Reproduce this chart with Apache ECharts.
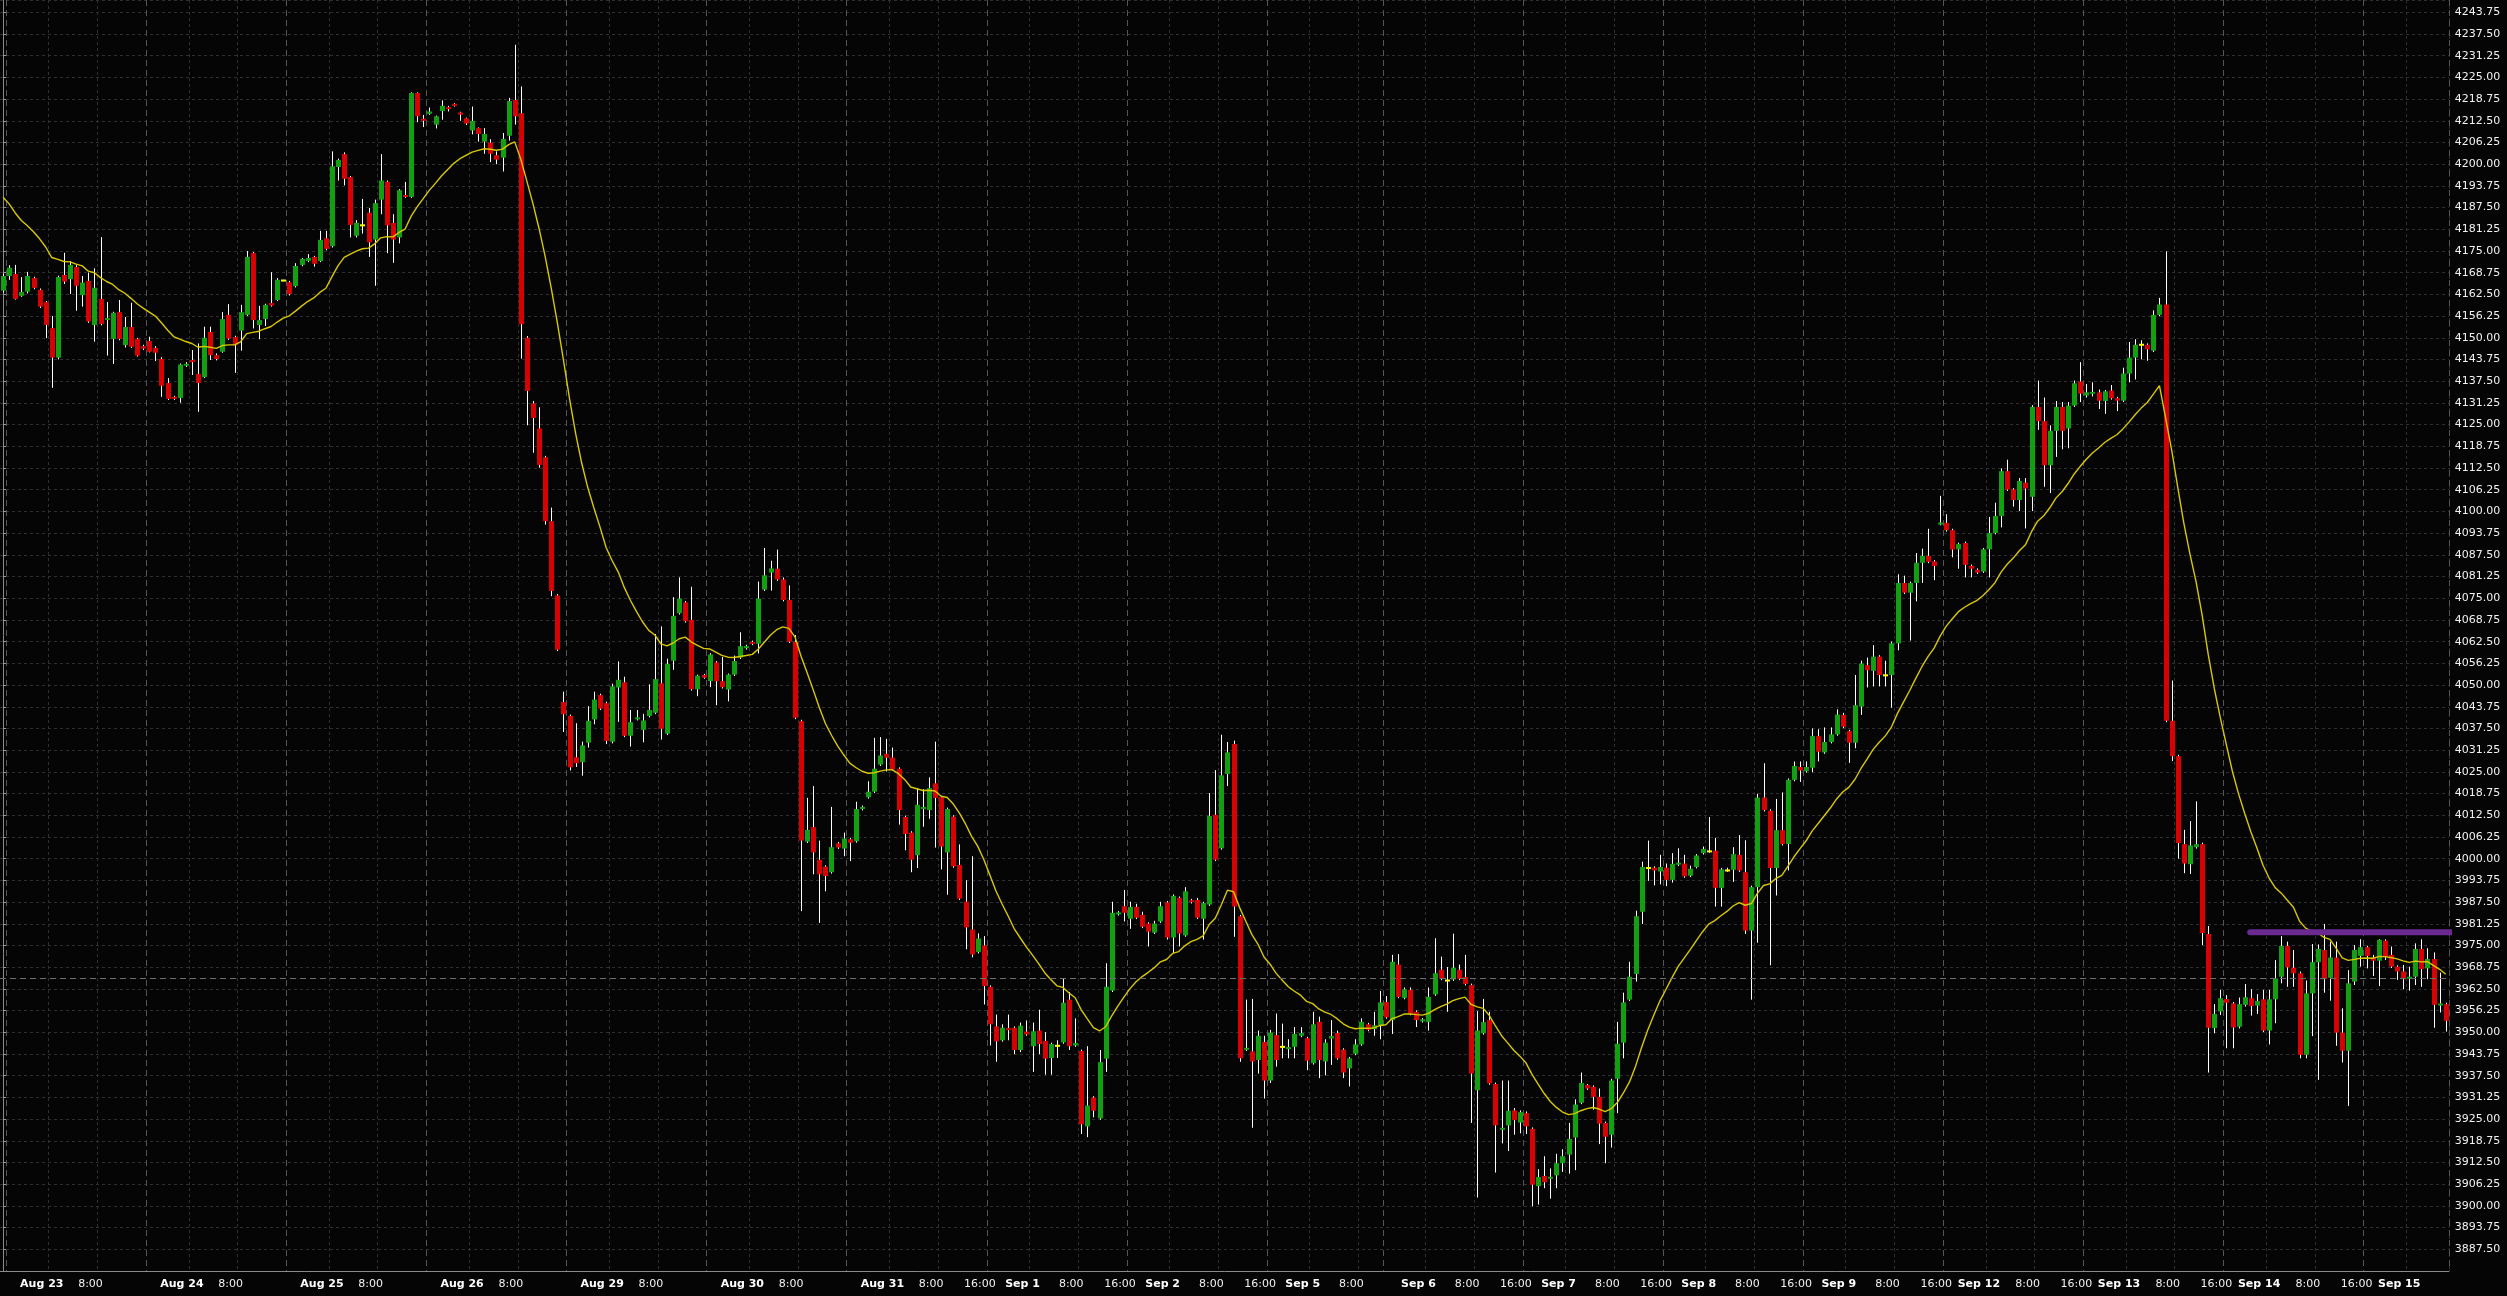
<!DOCTYPE html>
<html>
<head>
<meta charset="utf-8">
<script src="https://cdn.jsdelivr.net/npm/echarts@6/dist/echarts.min.js"></script>
<style>
html,body{margin:0;padding:0;background:#050505;}
#chart{width:2507px;height:1296px;}
</style>
</head>
<body>
<div id="chart"></div>
<script>
// ---------- categories (hourly bars, CT session 17:00-16:00) ----------
const sessionDates = ['Aug 23','Aug 24','Aug 25','Aug 26','Aug 29','Aug 30','Aug 31','Sep 1','Sep 2','Sep 5','Sep 6','Sep 7','Sep 8','Sep 9','Sep 12','Sep 13','Sep 14','Sep 15'];
const sessionLastHour = [15,15,15,15,15,15,15,15,15,11,15,15,15,15,15,15,15,6];
const sixteenLabelAfter = ['Aug 31','Sep 1','Sep 2','Sep 6','Sep 7','Sep 8','Sep 9','Sep 12','Sep 13','Sep 14'];
const firstBarLabel = 'Aug 22 15:00';

// ---------- OHLC values ----------
const openPrices = [
4163.6,4167.8,4168.4,4162.1,4163.3,4167.2,4163.8,4160.3,4152.8,4144.3,
4168.1,4166.9,4170.4,4162.3,4166.4,4153.7,4161.2,4155.2,4149.7,4157.4,
4147.9,4153.1,4149.7,4147.6,4149.1,4147.1,4143.9,4137.0,4133.0,4132.7,
4142.0,4143.6,4139.6,4138.7,4151.7,4145.0,4146.0,4156.6,4150.2,4152.1,
4156.6,4174.4,4153.7,4155.4,4160.0,4160.9,4166.5,4166.0,4164.9,4171.0,
4172.1,4173.3,4172.1,4178.7,4176.4,4199.2,4202.9,4196.3,4179.4,4182.4,
4186.0,4178.3,4189.8,4194.9,4183.1,4178.9,4191.1,4190.6,4220.5,4213.1,
4214.5,4211.4,4215.3,4216.4,4217.4,4214.9,4213.2,4209.7,4210.4,4206.5,
4206.2,4202.6,4201.9,4208.2,4218.5,4214.7,4150.0,4131.1,4123.9,4115.6,
4097.2,4075.8,4045.1,4041.1,4029.2,4027.8,4033.4,4040.1,4047.1,4044.8,
4033.7,4049.3,4050.8,4035.4,4040.2,4037.1,4041.1,4042.0,4050.5,4036.0,
4057.0,4070.7,4073.8,4068.8,4048.8,4052.9,4051.1,4056.5,4051.1,4048.7,
4053.0,4057.9,4060.6,4062.4,4061.9,4077.5,4082.4,4083.5,4080.4,4074.5,
4062.4,4039.6,4004.9,4009.1,3999.7,3997.7,3996.1,4004.4,4002.9,4005.6,
4005.0,4014.3,4017.7,4019.3,4027.1,4030.2,4029.1,4025.9,4012.0,4007.5,
4001.0,4014.3,4014.0,4021.7,4017.7,4001.8,4012.1,3998.2,3987.6,3979.6,
3973.1,3975.0,3963.1,3951.7,3947.7,3951.2,3951.3,3944.9,3950.2,3946.0,
3950.5,3947.5,3942.6,3946.1,3947.1,3959.4,3946.2,3944.6,3922.9,3931.2,
3925.2,3942.4,3962.0,3984.0,3986.3,3982.7,3986.1,3983.8,3981.3,3978.7,
3981.9,3987.4,3977.3,3988.7,3977.9,3988.0,3988.1,3982.7,3986.8,4012.6,
4003.0,4024.4,4033.0,3983.4,3945.0,3944.5,3942.0,3947.2,3936.1,3949.2,
3945.8,3945.2,3945.8,3949.0,3948.3,3941.1,3953.0,3941.6,3948.2,3949.8,
3945.0,3939.6,3943.8,3946.5,3952.3,3950.9,3952.0,3958.7,3953.5,3969.5,
3959.9,3962.2,3955.9,3953.2,3953.0,3960.9,3968.0,3964.9,3965.2,3968.0,
3965.9,3963.6,3933.3,3949.7,3953.5,3935.1,3922.0,3923.2,3927.5,3924.0,
3926.7,3922.2,3905.7,3908.6,3907.9,3908.8,3912.3,3914.8,3919.7,3929.7,
3934.8,3934.3,3931.4,3923.9,3920.5,3936.6,3947.0,3959.4,3966.8,3984.7,
3997.3,3997.4,3996.3,3997.4,3993.9,3998.3,3998.6,3995.1,3997.6,4001.6,
4002.1,4002.3,3991.6,3996.6,3996.8,4001.1,3996.1,3979.3,3991.8,4017.6,
4013.8,3997.3,4008.2,4004.2,4022.7,4026.4,4025.2,4026.2,4035.3,4030.6,
4033.6,4035.8,4041.4,4036.7,4033.4,4043.8,4055.7,4054.1,4058.2,4052.8,
4052.9,4062.0,4079.4,4076.6,4079.4,4085.2,4087.2,4085.6,4096.4,4096.7,
4094.6,4089.1,4090.9,4084.3,4083.2,4082.7,4089.1,4093.8,4098.7,4111.6,
4106.3,4103.3,4108.3,4104.2,4130.1,4126.0,4113.3,4123.2,4130.1,4123.9,
4130.5,4137.4,4133.4,4134.0,4134.3,4131.8,4134.8,4132.6,4131.9,4139.7,
4144.3,4148.0,4148.0,4146.3,4156.6,4159.6,4039.7,4029.5,4004.2,3998.4,
4003.3,4004.2,3978.3,3951.2,3956.0,3959.6,3958.3,3951.6,3957.9,3959.8,
3957.7,3959.5,3950.5,3959.5,3966.0,3974.9,3968.6,3967.0,3943.5,3961.2,
3970.2,3973.7,3965.7,3971.5,3949.9,3944.7,3964.6,3972.0,3974.5,3971.5,
3970.6,3976.4,3972.3,3968.9,3967.5,3965.4,3966.0,3974.0,3968.4,3971.1,
3957.7,3958.1
];
const closePrices = [
4167.8,4170.2,4161.2,4163.2,4167.8,4164.4,4159.0,4153.7,4144.3,4167.5,
4166.2,4171.0,4165.0,4165.9,4154.7,4164.4,4154.0,4155.6,4157.2,4149.7,
4153.1,4147.4,4144.9,4146.9,4146.0,4145.7,4136.2,4132.4,4132.4,4142.3,
4142.5,4143.0,4137.0,4150.0,4145.0,4143.9,4155.4,4149.8,4147.9,4157.4,
4173.3,4155.1,4155.1,4159.5,4159.3,4166.7,4166.5,4162.6,4170.7,4172.7,
4173.0,4171.3,4178.2,4175.6,4199.4,4201.2,4195.8,4182.5,4183.1,4182.4,
4177.5,4188.8,4195.3,4182.4,4178.3,4192.5,4190.6,4220.5,4213.8,4212.5,
4215.2,4213.8,4216.8,4215.9,4216.8,4214.3,4211.7,4212.5,4208.7,4208.7,
4203.0,4201.3,4207.3,4218.2,4213.8,4153.9,4134.7,4126.9,4113.4,4097.2,
4077.1,4060.2,4041.6,4026.3,4027.5,4032.6,4039.7,4045.8,4043.2,4033.9,
4049.6,4051.5,4035.4,4039.3,4040.6,4039.8,4042.8,4051.7,4037.4,4056.1,
4069.9,4074.9,4068.4,4048.8,4052.7,4052.1,4058.8,4051.1,4049.4,4053.0,
4056.9,4061.2,4061.2,4061.9,4074.9,4081.6,4083.6,4080.4,4074.5,4062.5,
4040.6,4005.2,4008.3,4001.8,3995.5,3995.0,4003.3,4003.2,4005.8,4004.6,
4014.3,4014.9,4019.3,4025.9,4029.7,4029.1,4025.7,4014.0,4007.1,3999.7,
4015.5,4014.9,4020.3,4017.5,4003.5,4014.3,3997.8,3988.5,3980.2,3972.4,
3977.0,3963.3,3952.3,3947.4,3951.3,3950.6,3944.9,3951.9,3949.4,3950.3,
3946.6,3942.4,3946.6,3946.1,3958.5,3946.0,3946.9,3923.5,3928.9,3927.4,
3941.4,3963.1,3984.4,3984.5,3984.4,3986.1,3983.0,3980.4,3979.0,3981.3,
3986.3,3977.3,3989.3,3978.4,3990.6,3987.5,3983.0,3987.2,4012.3,3999.7,
4024.0,4030.6,3986.2,3942.5,3945.5,3941.6,3949.0,3936.1,3949.9,3942.0,
3945.8,3945.7,3949.5,3949.8,3941.8,3952.3,3942.0,3947.0,3948.9,3942.5,
3938.4,3942.5,3946.5,3953.0,3950.7,3952.0,3958.6,3954.3,3970.3,3960.2,
3962.4,3955.3,3953.5,3953.7,3960.2,3967.0,3965.4,3964.9,3968.6,3965.4,
3963.9,3938.1,3950.5,3952.9,3935.3,3923.2,3922.4,3927.4,3924.7,3927.0,
3922.9,3906.1,3908.3,3906.8,3908.3,3912.3,3914.3,3919.3,3929.2,3935.4,
3933.8,3931.4,3923.7,3919.9,3936.1,3946.7,3958.6,3966.0,3983.4,3997.6,
3997.3,3996.6,3997.6,3993.9,3998.5,3998.8,3994.9,3997.1,4000.9,4002.8,
4002.1,3991.6,3996.9,3996.6,4001.3,3996.6,3979.3,3991.8,4017.6,4014.0,
3997.3,4008.2,4004.2,4022.7,4026.7,4025.4,4026.4,4035.3,4030.8,4033.6,
4035.8,4041.5,4038.0,4033.4,4044.2,4056.2,4054.3,4058.2,4052.9,4052.8,
4062.0,4079.4,4076.6,4079.4,4085.2,4087.2,4085.5,4084.3,4096.6,4094.6,
4089.0,4090.6,4084.6,4083.5,4082.4,4089.1,4093.8,4098.7,4111.6,4106.3,
4103.3,4108.8,4106.6,4130.1,4126.0,4113.3,4123.2,4130.1,4123.2,4130.5,
4136.9,4133.9,4134.3,4134.3,4131.9,4134.6,4132.6,4131.9,4139.7,4144.3,
4148.0,4148.0,4146.7,4156.6,4159.6,4039.7,4029.5,4004.5,3998.6,4003.8,
4004.2,3978.6,3951.3,3955.3,3959.8,3958.5,3951.4,3958.1,3960.1,3957.6,
3959.0,3950.5,3959.5,3965.5,3974.9,3968.7,3967.0,3943.5,3961.2,3970.2,
3974.0,3965.3,3971.5,3949.9,3944.7,3964.1,3973.7,3974.5,3972.0,3970.6,
3976.6,3971.6,3968.9,3967.5,3965.3,3966.0,3974.0,3968.2,3971.1,3957.9,
3958.3,3953.3
];
const lowPrices = [
4163.0,4166.7,4161.0,4161.8,4162.8,4164.0,4158.6,4149.9,4135.6,4143.8,
4165.5,4162.6,4157.8,4159.0,4154.3,4148.9,4153.6,4144.9,4142.5,4149.3,
4147.2,4147.1,4144.6,4146.5,4145.8,4143.3,4133.0,4132.1,4132.1,4131.3,
4141.6,4139.3,4128.7,4138.4,4143.6,4143.5,4145.7,4149.4,4139.9,4146.3,
4156.3,4152.7,4149.6,4153.4,4159.0,4160.6,4166.3,4162.2,4164.5,4170.6,
4171.8,4170.5,4171.8,4175.2,4176.0,4195.3,4193.9,4178.9,4178.9,4180.0,
4173.3,4165.0,4185.6,4174.4,4171.6,4177.2,4190.3,4190.3,4212.1,4210.7,
4214.2,4210.3,4212.8,4215.2,4216.6,4212.5,4211.3,4208.6,4206.5,4203.0,
4200.6,4200.0,4197.9,4206.8,4211.4,4144.0,4124.8,4116.9,4112.6,4096.2,
4075.6,4059.8,4036.5,4025.4,4026.4,4023.9,4032.0,4038.7,4042.8,4033.0,
4033.2,4039.4,4035.0,4032.3,4039.8,4033.5,4040.7,4041.6,4034.3,4035.6,
4054.4,4070.3,4068.0,4048.4,4046.8,4051.8,4049.4,4044.2,4049.0,4045.3,
4052.6,4057.5,4060.2,4061.5,4059.1,4077.1,4077.2,4080.0,4074.1,4062.1,
4040.2,3984.9,4004.5,3995.5,3981.5,3990.6,3995.7,4002.8,4000.7,3999.3,
4004.6,4013.9,4017.3,4018.9,4026.7,4025.1,4025.3,4009.8,4002.4,3996.1,
3997.3,4009.2,4011.5,4003.2,3996.9,3989.6,3997.4,3988.1,3973.9,3971.6,
3972.7,3958.0,3946.2,3941.5,3947.3,3947.7,3943.7,3944.3,3949.0,3938.6,
3943.7,3937.8,3937.8,3942.6,3946.7,3944.9,3945.8,3920.7,3919.8,3925.5,
3924.8,3938.6,3961.6,3983.6,3981.9,3979.8,3982.6,3980.0,3974.7,3978.3,
3981.5,3976.7,3972.8,3974.7,3977.5,3987.1,3982.6,3976.7,3986.4,3999.3,
4002.6,4020.9,3977.5,3941.5,3944.6,3922.5,3938.1,3930.9,3935.4,3940.1,
3942.5,3942.5,3942.5,3948.6,3939.1,3940.7,3936.8,3937.6,3940.6,3942.1,
3936.8,3934.4,3943.4,3946.1,3950.3,3949.0,3948.0,3953.9,3949.5,3959.8,
3959.5,3954.9,3951.5,3952.8,3950.5,3960.5,3965.0,3955.9,3964.8,3965.0,
3963.5,3923.9,3902.4,3949.3,3934.9,3909.6,3918.0,3915.8,3920.5,3920.9,
3920.7,3899.9,3900.4,3905.1,3902.1,3905.1,3909.8,3909.3,3910.3,3929.3,
3933.4,3927.7,3917.8,3912.3,3916.8,3926.7,3942.5,3959.0,3964.6,3981.2,
3993.6,3992.3,3992.6,3992.1,3993.1,3997.9,3994.5,3994.7,3997.2,4001.2,
4001.7,3986.2,3986.2,3996.2,3993.3,3996.2,3978.3,3959.4,3975.8,4013.6,
3969.3,3989.4,4003.8,3996.6,4022.3,4022.1,4024.8,4024.9,4028.0,4030.2,
4033.2,4035.4,4037.6,4027.6,4031.8,4041.4,4049.3,4049.6,4049.6,4049.6,
4043.5,4060.0,4076.2,4062.8,4074.1,4079.4,4085.1,4080.2,4096.0,4094.2,
4086.8,4083.5,4081.0,4081.0,4082.0,4082.3,4081.0,4093.4,4095.4,4105.9,
4101.4,4100.1,4095.1,4100.1,4123.5,4107.1,4105.3,4115.7,4117.9,4118.2,
4130.1,4131.5,4132.8,4133.1,4129.5,4128.1,4132.2,4128.9,4131.5,4137.2,
4138.0,4143.8,4143.4,4145.9,4156.2,4039.3,4028.1,4000.0,3995.8,3995.6,
4002.9,3975.1,3938.4,3949.7,3955.0,3945.4,3945.4,3951.1,3957.4,3954.8,
3955.3,3950.1,3946.5,3952.6,3964.1,3963.1,3963.1,3942.5,3942.5,3948.9,
3936.3,3961.4,3959.1,3946.1,3941.3,3928.8,3963.6,3968.9,3968.4,3966.2,
3963.3,3970.8,3968.5,3965.1,3962.4,3962.0,3963.6,3963.1,3965.3,3951.3,
3955.7,3950.2
];
const highPrices = [
4168.5,4170.9,4171.0,4167.5,4169.0,4167.6,4164.2,4160.6,4156.3,4167.9,
4174.5,4172.1,4170.9,4167.8,4168.8,4170.0,4179.0,4160.3,4157.5,4160.9,
4156.0,4160.1,4150.0,4148.0,4150.3,4147.6,4144.4,4138.4,4133.3,4142.6,
4143.0,4146.5,4148.4,4153.2,4153.2,4145.5,4157.4,4159.7,4150.6,4159.5,
4175.0,4174.7,4159.2,4159.8,4168.9,4167.2,4166.7,4166.4,4171.5,4173.0,
4174.1,4173.6,4180.8,4180.8,4203.7,4201.6,4203.4,4196.6,4183.9,4190.0,
4187.4,4189.8,4202.9,4195.3,4185.6,4192.8,4194.9,4220.7,4220.7,4214.2,
4216.3,4214.0,4218.4,4216.8,4217.6,4215.1,4213.4,4216.6,4210.6,4210.4,
4207.2,4203.7,4209.0,4219.1,4234.4,4222.4,4150.5,4131.8,4130.0,4116.0,
4101.1,4076.2,4048.1,4041.5,4039.0,4033.7,4043.9,4048.1,4047.5,4045.2,
4050.4,4056.8,4052.4,4042.8,4042.8,4041.7,4050.2,4064.7,4066.9,4057.6,
4075.3,4081.0,4074.2,4078.3,4053.0,4053.2,4059.2,4056.9,4058.1,4053.3,
4058.5,4065.2,4061.6,4062.8,4079.8,4089.5,4085.8,4089.0,4081.0,4078.7,
4064.4,4040.0,4017.5,4020.9,4005.2,3998.1,4014.9,4004.8,4007.5,4006.0,
4016.4,4015.3,4022.3,4034.8,4035.0,4034.5,4032.0,4026.3,4012.4,4007.9,
4020.3,4020.0,4023.4,4033.7,4018.1,4014.7,4012.5,4004.1,3993.8,4000.7,
3978.5,3977.7,3963.5,3955.1,3952.3,3955.1,3951.7,3952.8,3953.4,3952.8,
3956.5,3950.0,3947.0,3947.7,3965.4,3961.6,3954.0,3945.0,3946.0,3931.6,
3944.9,3969.9,3987.6,3984.9,3991.0,3987.6,3987.0,3984.7,3981.7,3982.1,
3987.6,3987.8,3989.7,3989.1,3991.8,3988.4,3988.7,3987.6,4018.9,4025.5,
4035.7,4033.6,4034.0,3983.8,3959.4,3959.6,3950.5,3949.0,3950.7,3955.4,
3952.5,3948.0,3951.5,3951.5,3948.7,3955.9,3954.5,3948.0,3953.5,3950.5,
3945.4,3942.9,3948.0,3954.0,3952.7,3955.9,3961.9,3960.4,3972.3,3972.5,
3962.9,3962.9,3956.3,3954.1,3962.9,3977.1,3971.8,3968.8,3978.4,3969.5,
3972.3,3964.0,3956.1,3959.6,3955.9,3935.5,3936.1,3936.1,3928.2,3927.5,
3927.2,3922.6,3910.6,3914.3,3910.8,3915.0,3916.3,3923.9,3930.7,3938.4,
3935.1,3934.7,3933.8,3924.3,3936.6,3953.0,3961.4,3970.3,3985.0,3999.1,
4005.2,3997.8,4001.1,3998.6,4001.6,4003.0,4001.1,3998.0,4001.3,4003.5,
4012.0,4006.0,3997.3,3997.4,4003.3,4006.8,4005.3,3992.2,4018.7,4027.5,
4014.2,4017.2,4019.1,4023.1,4028.0,4028.0,4028.0,4037.5,4037.3,4037.8,
4037.8,4043.0,4042.0,4037.1,4052.9,4057.0,4057.9,4061.5,4058.6,4057.0,
4062.5,4081.9,4081.5,4079.8,4088.0,4089.3,4095.0,4086.0,4104.5,4099.2,
4095.0,4091.0,4091.3,4084.7,4083.6,4089.5,4098.4,4102.5,4112.4,4114.9,
4106.7,4109.6,4109.6,4130.6,4137.7,4132.8,4124.8,4131.8,4131.5,4131.5,
4137.7,4143.0,4136.7,4137.2,4135.1,4135.0,4136.4,4133.0,4141.4,4148.8,
4149.6,4149.3,4148.4,4157.9,4161.5,4174.9,4051.3,4029.9,4008.3,4010.8,
4016.5,4004.6,3980.6,3958.1,3962.2,3960.7,3958.7,3960.0,3963.9,3962.4,
3961.0,3962.2,3962.2,3970.8,3977.7,3976.1,3973.7,3967.5,3964.9,3975.4,
3975.3,3981.2,3976.1,3976.1,3956.9,3967.9,3975.1,3976.8,3974.9,3972.3,
3976.8,3976.8,3974.7,3969.3,3969.4,3968.9,3975.6,3976.8,3974.2,3973.0,
3967.2,3958.5
];

// moving-average indicator (EMA of the closes); first value
const maPeriod = 20;
const maFirstValue = 4190.5;

// horizontal level (purple) and dashed price line
const levelPrice = 3978.8;
const levelFromBar = 368.9;
const levelToBar = 401.9;
const priceLineValue = 3965.7;

// y axis
const yMin = 3881.25, yMax = 4247.29, yStep = 6.25;

// ---------- build categories / label & grid-line flags ----------
const categories = [firstBarLabel], labelText = [''], lightLine = [false], heavyLine = [false];
sessionDates.forEach((d, s) => {
  for (let h = 17; h <= 23; h++) {
    categories.push(d + ' (eve) ' + h + ':00');
    labelText.push(h === 17 && s > 0 && sixteenLabelAfter.indexOf(sessionDates[s - 1]) >= 0 ? '16:00' : '');
    lightLine.push(false);
    heavyLine.push(h === 17);
  }
  for (let h = 0; h <= sessionLastHour[s]; h++) {
    categories.push(d + ' ' + h + ':00');
    labelText.push(h === 0 ? '{d|' + d + '}' : (h === 8 ? '8:00' : ''));
    lightLine.push(h === 0 || h === 8);
    heavyLine.push(false);
  }
});

const candleData = openPrices.map((o, i) => [i, o, closePrices[i], lowPrices[i], highPrices[i]]);
const maData = [];
{
  const k = 2 / (maPeriod + 1);
  let e = maFirstValue;
  closePrices.forEach((c, i) => { if (i > 0) e = e + k * (c - e); maData.push(+e.toFixed(2)); });
}

const GREEN = '#12a012', RED = '#d80000', DOJI = '#ffff00';

function renderCandle(params, api) {
  const j = api.value(0), o = api.value(1), c = api.value(2), l = api.value(3), h = api.value(4);
  const pO = api.coord([j, o]), pC = api.coord([j, c]);
  const pL = api.coord([j, Math.min(l, o, c)]), pH = api.coord([j, Math.max(h, o, c)]);
  const x = Math.round(pO[0]);
  const top = Math.min(pO[1], pC[1]), bot = Math.max(pO[1], pC[1]);
  const color = c > o ? GREEN : (c < o ? RED : DOJI);
  let bh = bot - top, by = top;
  if (bh < 2) { by = (top + bot) / 2 - 1; bh = 2; }
  return {
    type: 'group',
    children: [
      { type: 'line', shape: { x1: x + 0.5, y1: pH[1], x2: x + 0.5, y2: pL[1] }, style: { stroke: '#ffffff', lineWidth: 1 } },
      { type: 'rect', shape: { x: x - 2, y: by, width: 5, height: bh }, style: { fill: color } }
    ]
  };
}

const chart = echarts.init(document.getElementById('chart'), null, { renderer: 'canvas' });
const FONT = 'DejaVu Sans';
chart.setOption({
  animation: false,
  backgroundColor: '#050505',
  grid: { left: -3.7, right: 58.2, top: 0, bottom: 25 },
  xAxis: [
    {
      type: 'category', data: categories, boundaryGap: true,
      axisLine: { show: true, lineStyle: { color: '#8a8a8a', width: 1 } },
      axisTick: { show: false },
      axisLabel: {
        interval: (idx) => labelText[idx] !== '',
        formatter: (v, idx) => labelText[idx],
        color: '#f2f2f2', fontFamily: FONT, fontSize: 11, margin: 8,
        padding: [0, 20, 0, 0],
        rich: { d: { fontWeight: 'bold', fontFamily: FONT, fontSize: 11, color: '#ffffff' } }
      },
      splitLine: { show: true, interval: (idx) => lightLine[idx], lineStyle: { color: '#2f2f2f', type: [3, 3], width: 1 } }
    },
    {
      type: 'category', data: categories, boundaryGap: true, position: 'bottom',
      axisLine: { show: false }, axisTick: { show: false }, axisLabel: { show: false },
      splitLine: { show: true, interval: (idx) => heavyLine[idx], lineStyle: { color: '#555555', type: [6, 4], width: 1 } }
    },
    { type: 'value', min: -0.5, max: categories.length - 0.5, show: false }
  ],
  yAxis: {
    type: 'value', position: 'right', min: yMin, max: yMax, interval: yStep, scale: true,
    axisLine: { show: true, lineStyle: { color: '#8a8a8a', width: 1 } },
    axisTick: { show: true, length: 3, lineStyle: { color: '#9a9a9a' } },
    axisLabel: {
      show: true, showMinLabel: false, showMaxLabel: false,
      formatter: (v) => v.toFixed(2), color: '#f2f2f2', fontFamily: FONT, fontSize: 11, margin: 6,
      padding: [3, 0, 0, 0]
    },
    splitLine: { show: true, lineStyle: { color: '#2f2f2f', type: [3, 3], width: 1 } }
  },
  series: [
    {
      type: 'custom', name: 'price', xAxisIndex: 0, yAxisIndex: 0,
      renderItem: renderCandle, data: candleData,
      encode: { x: 0, y: [1, 2, 3, 4] }, z: 3
    },
    {
      type: 'line', name: 'MA', xAxisIndex: 0, yAxisIndex: 0, data: maData,
      showSymbol: false, symbol: 'none', smooth: false,
      lineStyle: { color: '#d9c800', width: 1.4 }, z: 4,
      markLine: {
        silent: true, symbol: 'none', animation: false,
        label: { show: false },
        lineStyle: { color: '#6e6e6e', type: [6, 4], width: 1 },
        data: [{ yAxis: priceLineValue }]
      }
    },
    {
      type: 'line', name: 'level', xAxisIndex: 2, yAxisIndex: 0,
      data: [[levelFromBar, levelPrice], [levelToBar, levelPrice]],
      showSymbol: false, symbol: 'none', clip: false,
      lineStyle: { color: '#6a2a90', width: 6, cap: 'round' }, z: 5
    }
  ]
});
</script>
</body>
</html>
